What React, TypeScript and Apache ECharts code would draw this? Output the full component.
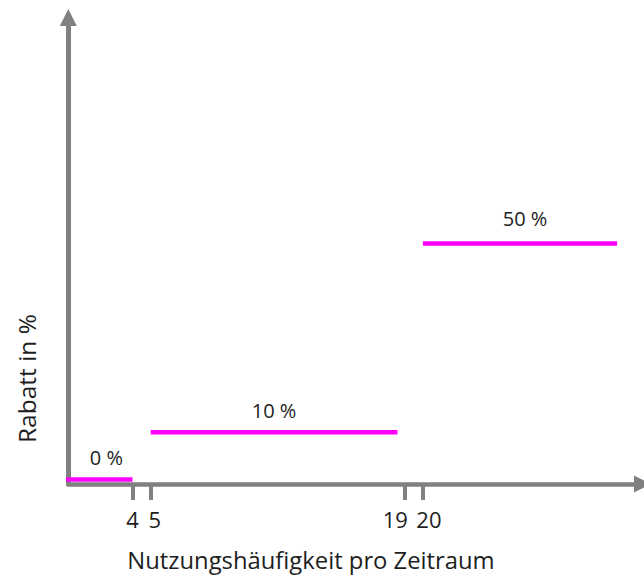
import React, { useEffect, useRef } from "react";
import * as echarts from "echarts";

// Tiers: usage-frequency ranges and their discount
const tierStart = [0, 5, 20];
const tierEnd = [4, 18.6, 30.7];
const rabatt = [0, 10, 50];

// x-axis ticks
const tickValues = [4, 5, 19, 20];
const tickLabels = ["4", "5", "19", "20"];

const xTitle = "Nutzungshäufigkeit pro Zeitraum";
const yTitle = "Rabatt in %";

const X_MIN = 0.46;
const X_MAX = 32.1;
const Y_MIN = -0.95;
const Y_MAX = 97.9;

const GRAY = "#808080";
const MAGENTA = "#ff00ff";
const TEXT = "#1e1e1e";
const FONT = "'Open Sans', 'Noto Sans', sans-serif";

export default function App() {
  const ref = useRef<HTMLDivElement>(null);

  useEffect(() => {
    if (!ref.current) return;
    const chart = echarts.init(ref.current, undefined, { renderer: "svg" });

    const segmentSeries = tierStart.map((s, i) => ({
      type: "line",
      data: [
        [s, rabatt[i]],
        [tierEnd[i], rabatt[i]],
      ],
      symbol: "none",
      lineStyle: { color: MAGENTA, width: 4.5, cap: "butt" },
      z: 3,
    }));

    const labelOffsets = [[6, 0], [0, 0], [5, -3]];
    const labelSeries = {
      type: "scatter",
      symbol: "circle",
      symbolSize: 0,
      itemStyle: { color: TEXT, opacity: 1 },
      data: tierStart.map((s, i) => ({
        value: [(Math.max(s, X_MIN) + tierEnd[i]) / 2, rabatt[i]],
        label: { offset: labelOffsets[i] },
      })),
      label: {
        show: true,
        position: "top",
        distance: 12,
        formatter: (p: any) => `${p.value[1]} %`,
        fontFamily: FONT,
        fontSize: 20,
        color: TEXT,
        opacity: 1,
      },
      z: 4,
    };

    const tickPad: Record<string, number[]> = {
      t0: [0, 0, 0, 0],
      t1: [0, 0, 0, 8],
      t2: [0, 19, 0, 0],
      t3: [0, 0, 0, 12],
    };
    const rich: Record<string, any> = {};
    Object.keys(tickPad).forEach((k) => {
      rich[k] = {
        padding: tickPad[k],
        fontFamily: FONT,
        fontSize: 22,
        color: TEXT,
      };
    });

    chart.setOption({
      animation: false,
      grid: { left: 68.3, right: 1.5, top: 17.5, bottom: 92 },
      xAxis: {
        type: "value",
        min: X_MIN,
        max: X_MAX,
        axisLine: {
          show: true,
          onZero: false,
          symbol: ["none", "triangle"],
          symbolSize: [17, 17],
          lineStyle: { color: GRAY, width: 4.5 },
        },
        axisTick: {
          show: true,
          customValues: tickValues,
          length: 16,
          lineStyle: { color: GRAY, width: 4 },
        },
        axisLabel: {
          show: true,
          customValues: tickValues,
          margin: 24,
          formatter: (v: number) => {
            const i = tickValues.indexOf(v);
            return `{t${i}|${tickLabels[i]}}`;
          },
          rich,
        },
        splitLine: { show: false },
      },
      yAxis: {
        type: "value",
        min: Y_MIN,
        max: Y_MAX,
        axisLine: {
          show: true,
          onZero: false,
          symbol: ["none", "triangle"],
          symbolSize: [17, 17],
          lineStyle: { color: GRAY, width: 5 },
        },
        axisTick: { show: false },
        axisLabel: { show: false },
        splitLine: { show: false },
      },
      graphic: [
        {
          type: "text",
          x: 311,
          y: 560,
          style: {
            text: xTitle,
            fontFamily: FONT,
            fontSize: 23.8,
            fill: TEXT,
            align: "center",
            verticalAlign: "middle",
          },
        },
        {
          type: "text",
          x: 26,
          y: 378.5,
          rotation: Math.PI / 2,
          style: {
            text: yTitle,
            fontFamily: FONT,
            fontSize: 24.5,
            fill: TEXT,
            align: "center",
            verticalAlign: "middle",
          },
        },
      ],
      series: [...segmentSeries, labelSeries],
    });

    return () => chart.dispose();
  }, []);

  return (
    <div
      ref={ref}
      style={{ position: "absolute", left: 0, top: 0, width: 644, height: 576 }}
    />
  );
}
